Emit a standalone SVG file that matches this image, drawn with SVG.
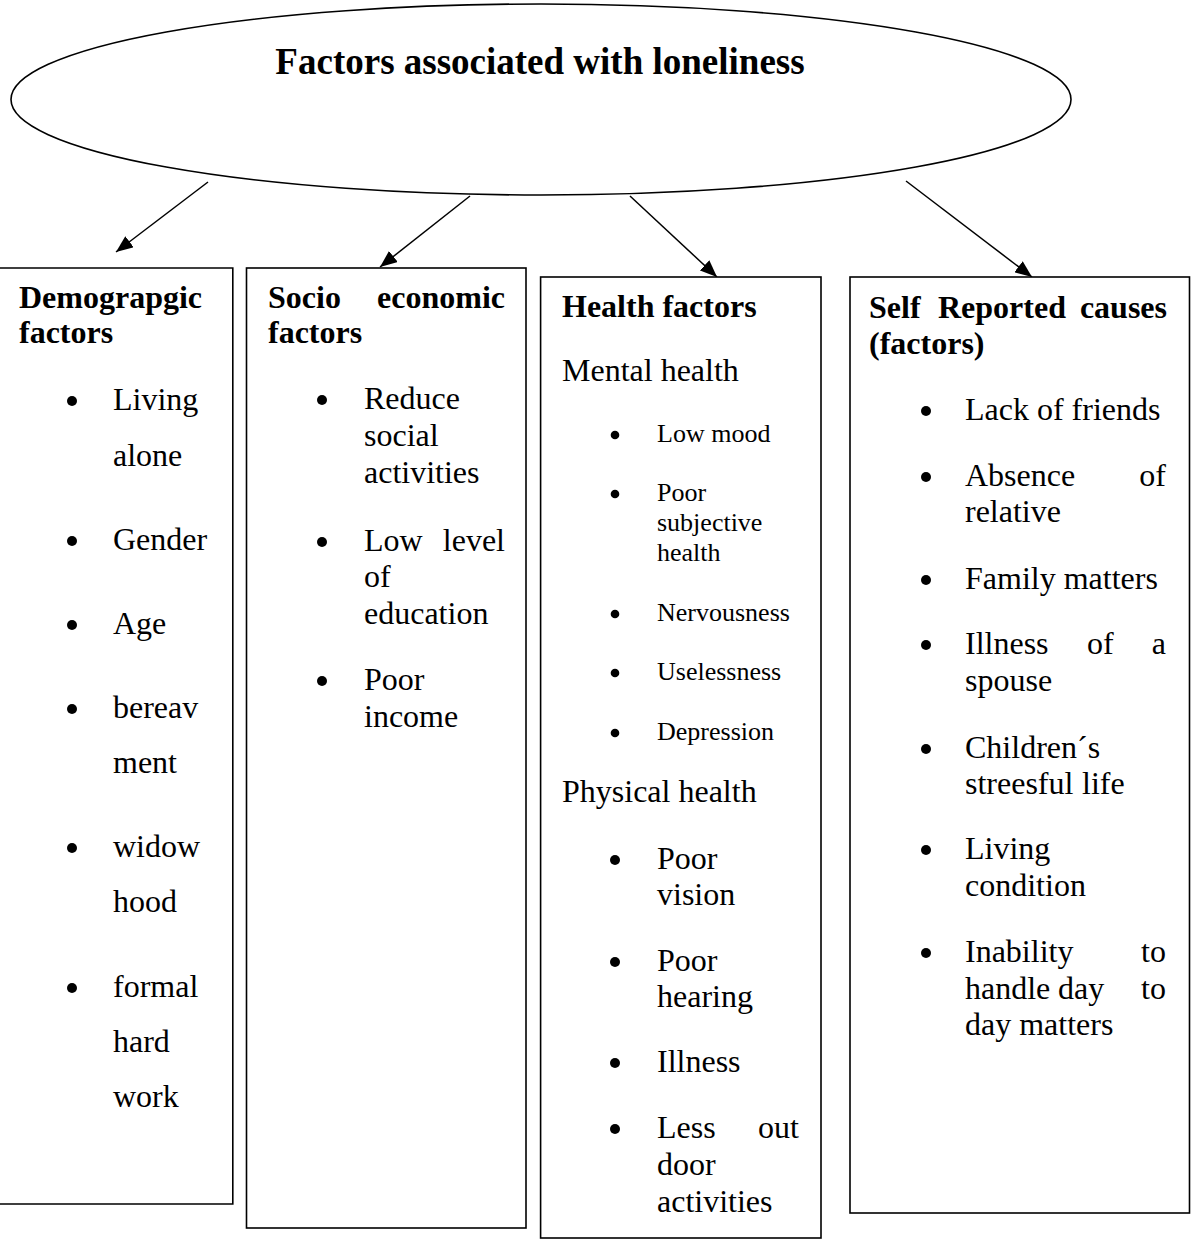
<svg xmlns="http://www.w3.org/2000/svg" width="1191" height="1248" viewBox="0 0 1191 1248">
<style>
text{font-family:"Liberation Serif","Times New Roman",serif;fill:#000}
.t{font-size:37px;font-weight:bold}
.h{font-size:32px;font-weight:bold}
.b{font-size:32px}
.s{font-size:26px}
.box{fill:#fff;stroke:#000;stroke-width:1.6}
.con{stroke:#000;stroke-width:1.5;fill:none}
.dot{fill:#000}
</style>
<defs>
<marker id="ah" markerUnits="userSpaceOnUse" markerWidth="18" markerHeight="14" refX="17" refY="7" orient="auto">
<path d="M0,0 L17,7 L0,14 Z" fill="#000"/>
</marker>
</defs>
<rect width="1191" height="1248" fill="#fff"/>
<g id="root">
<ellipse cx="541" cy="99.5" rx="530" ry="95.5" fill="#fff" stroke="#000" stroke-width="1.6"/>
<text class="t" x="540" y="74" text-anchor="middle">Factors associated with loneliness</text>
</g>
<g id="connectors">
<line class="con" x1="208" y1="182" x2="116" y2="252" marker-end="url(#ah)"/>
<line class="con" x1="470" y1="196" x2="380" y2="267" marker-end="url(#ah)"/>
<line class="con" x1="630" y1="196" x2="717" y2="277" marker-end="url(#ah)"/>
<line class="con" x1="906" y1="181" x2="1032" y2="277" marker-end="url(#ah)"/>
</g>
<g id="demographic">
<path class="box" d="M-2,268 H232.8 V1204 H-2"/>
<text class="h" x="19" y="308">Demograpgic</text>
<text class="h" x="19" y="343">factors</text>
<circle class="dot" cx="72" cy="401" r="5"/>
<text class="b" x="113" y="410">Living</text>
<text class="b" x="113" y="466">alone</text>
<circle class="dot" cx="72" cy="541" r="5"/>
<text class="b" x="113" y="550">Gender</text>
<circle class="dot" cx="72" cy="625" r="5"/>
<text class="b" x="113" y="634">Age</text>
<circle class="dot" cx="72" cy="709" r="5"/>
<text class="b" x="113" y="718">bereav</text>
<text class="b" x="113" y="773">ment</text>
<circle class="dot" cx="72" cy="848" r="5"/>
<text class="b" x="113" y="857">widow</text>
<text class="b" x="113" y="912">hood</text>
<circle class="dot" cx="72" cy="988" r="5"/>
<text class="b" x="113" y="997">formal</text>
<text class="b" x="113" y="1052">hard</text>
<text class="b" x="113" y="1107">work</text>
</g>
<g id="socioeconomic">
<rect class="box" x="246.5" y="268" width="279.5" height="960"/>
<text class="h" x="268" y="308">Socio</text>
<text class="h" x="505" y="308" text-anchor="end">economic</text>
<text class="h" x="268" y="343">factors</text>
<circle class="dot" cx="322" cy="400" r="5"/>
<text class="b" x="364" y="409">Reduce</text>
<text class="b" x="364" y="446">social</text>
<text class="b" x="364" y="483">activities</text>
<circle class="dot" cx="322" cy="542" r="5"/>
<text class="b" x="364" y="551">Low</text>
<text class="b" x="505" y="551" text-anchor="end">level</text>
<text class="b" x="364" y="587">of</text>
<text class="b" x="364" y="624">education</text>
<circle class="dot" cx="322" cy="681" r="5"/>
<text class="b" x="364" y="690">Poor</text>
<text class="b" x="364" y="727">income</text>
</g>
<g id="health">
<rect class="box" x="540.6" y="277" width="280.4" height="961"/>
<text class="h" x="562" y="317">Health factors</text>
<text class="b" x="562" y="381">Mental health</text>
<circle class="dot" cx="615" cy="435" r="4.3"/>
<text class="s" x="657" y="442">Low mood</text>
<circle class="dot" cx="615" cy="494" r="4.3"/>
<text class="s" x="657" y="501">Poor</text>
<text class="s" x="657" y="531">subjective</text>
<text class="s" x="657" y="561">health</text>
<circle class="dot" cx="615" cy="614" r="4.3"/>
<text class="s" x="657" y="621">Nervousness</text>
<circle class="dot" cx="615" cy="673" r="4.3"/>
<text class="s" x="657" y="680">Uselessness</text>
<circle class="dot" cx="615" cy="733" r="4.3"/>
<text class="s" x="657" y="740">Depression</text>
<text class="b" x="562" y="802">Physical health</text>
<circle class="dot" cx="615" cy="860" r="5"/>
<text class="b" x="657" y="869">Poor</text>
<text class="b" x="657" y="905">vision</text>
<circle class="dot" cx="615" cy="962" r="5"/>
<text class="b" x="657" y="971">Poor</text>
<text class="b" x="657" y="1007">hearing</text>
<circle class="dot" cx="615" cy="1063" r="5"/>
<text class="b" x="657" y="1072">Illness</text>
<circle class="dot" cx="615" cy="1129" r="5"/>
<text class="b" x="657" y="1138">Less</text>
<text class="b" x="799" y="1138" text-anchor="end">out</text>
<text class="b" x="657" y="1175">door</text>
<text class="b" x="657" y="1212">activities</text>
</g>
<g id="selfreported">
<rect class="box" x="850" y="277" width="339.5" height="936"/>
<text class="h" x="869" y="318">Self</text>
<text class="h" x="938" y="318">Reported</text>
<text class="h" x="1167" y="318" text-anchor="end">causes</text>
<text class="h" x="869" y="354">(factors)</text>
<circle class="dot" cx="926" cy="411" r="5"/>
<text class="b" x="965" y="420">Lack of friends</text>
<circle class="dot" cx="926" cy="477" r="5"/>
<text class="b" x="965" y="486">Absence</text>
<text class="b" x="1166" y="486" text-anchor="end">of</text>
<text class="b" x="965" y="522">relative</text>
<circle class="dot" cx="926" cy="580" r="5"/>
<text class="b" x="965" y="589">Family matters</text>
<circle class="dot" cx="926" cy="645" r="5"/>
<text class="b" x="965" y="654">Illness</text>
<text class="b" x="1087" y="654">of</text>
<text class="b" x="1166" y="654" text-anchor="end">a</text>
<text class="b" x="965" y="691">spouse</text>
<circle class="dot" cx="926" cy="749" r="5"/>
<text class="b" x="965" y="758">Children´s</text>
<text class="b" x="965" y="794">streesful</text>
<text class="b" x="1082" y="794">life</text>
<circle class="dot" cx="926" cy="850" r="5"/>
<text class="b" x="965" y="859">Living</text>
<text class="b" x="965" y="896">condition</text>
<circle class="dot" cx="926" cy="953" r="5"/>
<text class="b" x="965" y="962">Inability</text>
<text class="b" x="1166" y="962" text-anchor="end">to</text>
<text class="b" x="965" y="999">handle</text>
<text class="b" x="1058" y="999">day</text>
<text class="b" x="1166" y="999" text-anchor="end">to</text>
<text class="b" x="965" y="1035">day matters</text>
</g>
</svg>
